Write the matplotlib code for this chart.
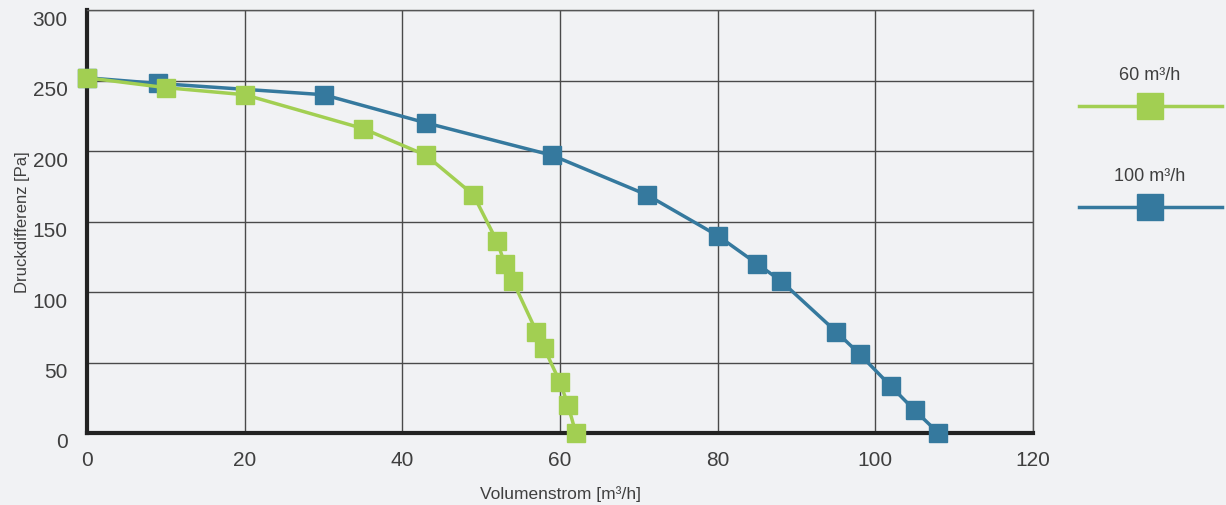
import matplotlib.pyplot as plt
import matplotlib.transforms as mtransforms
from matplotlib.lines import Line2D

plt.rcParams['font.family'] = ['Liberation Sans', 'DejaVu Sans']

bg = '#f1f2f4'
green = '#a2cf52'
blue = '#35799e'
textcol = '#3f3f3f'

# Kennlinien
x_60 = [0, 10, 20, 35, 43, 49, 52, 53, 54, 57, 58, 60, 61, 62]
y_60 = [252, 245, 240, 216, 197, 169, 136, 120, 108, 72, 60, 36, 20, 0]
x_100 = [0, 9, 30, 43, 59, 71, 80, 85, 88, 95, 98, 102, 105, 108]
y_100 = [252, 248, 240, 220, 197, 169, 140, 120, 108, 72, 56, 33, 16, 0]
labels = ['60 m³/h', '100 m³/h']

xticks = [0, 20, 40, 60, 80, 100, 120]
yticks = [0, 50, 100, 150, 200, 250, 300]

fig = plt.figure(figsize=(12.26, 5.06), dpi=100, facecolor=bg)
ax = fig.add_axes([0.071, 0.1423, 0.7716, 0.8357], facecolor=bg)

ax.plot(x_100, y_100, color=blue, lw=2.5, marker='s', ms=12.5,
        markeredgecolor=blue, zorder=3, clip_on=False)
ax.plot(x_60, y_60, color=green, lw=2.5, marker='s', ms=12.5,
        markeredgecolor=green, zorder=4, clip_on=False)

ax.set_xlim(0, 120)
ax.set_ylim(0, 300)
ax.set_xticks(xticks)
ax.set_yticks(yticks)
ax.grid(True, color='#4a4a4a', lw=1.0)
ax.set_axisbelow(True)
ax.tick_params(length=0, labelsize=15, labelcolor=textcol)
ax.tick_params(axis='x', pad=12)
ax.tick_params(axis='y', pad=14)

# y-Beschriftung leicht nach unten versetzt
off = mtransforms.ScaledTranslation(0, -0.07, fig.dpi_scale_trans)
for lab in ax.get_yticklabels():
    lab.set_transform(lab.get_transform() + off)

for s in ['left', 'bottom']:
    ax.spines[s].set_color('#222222')
    ax.spines[s].set_linewidth(3)
for s in ['top', 'right']:
    ax.spines[s].set_color('#555555')
    ax.spines[s].set_linewidth(1)

ax.set_xlabel('Volumenstrom [m³/h]', fontsize=12.5, color=textcol, labelpad=12)
ax.set_ylabel('Druckdifferenz [Pa]', fontsize=12, color=textcol, labelpad=2)

# Legende rechts
W, H = 1226, 506
for lab, col, ty, ly in [(labels[0], green, 75, 107), (labels[1], blue, 177, 208)]:
    fig.text(1150 / W, 1 - ty / H, lab, ha='center', va='center',
             fontsize=13, color=textcol)
    fig.add_artist(Line2D([1079 / W, 1222 / W], [1 - ly / H, 1 - ly / H],
                          color=col, lw=2.5, transform=fig.transFigure))
    fig.add_artist(Line2D([1150 / W], [1 - ly / H], marker='s', ms=19,
                          color=col, markeredgecolor=col, transform=fig.transFigure))

fig.savefig('out.png', dpi=100, facecolor=bg)
